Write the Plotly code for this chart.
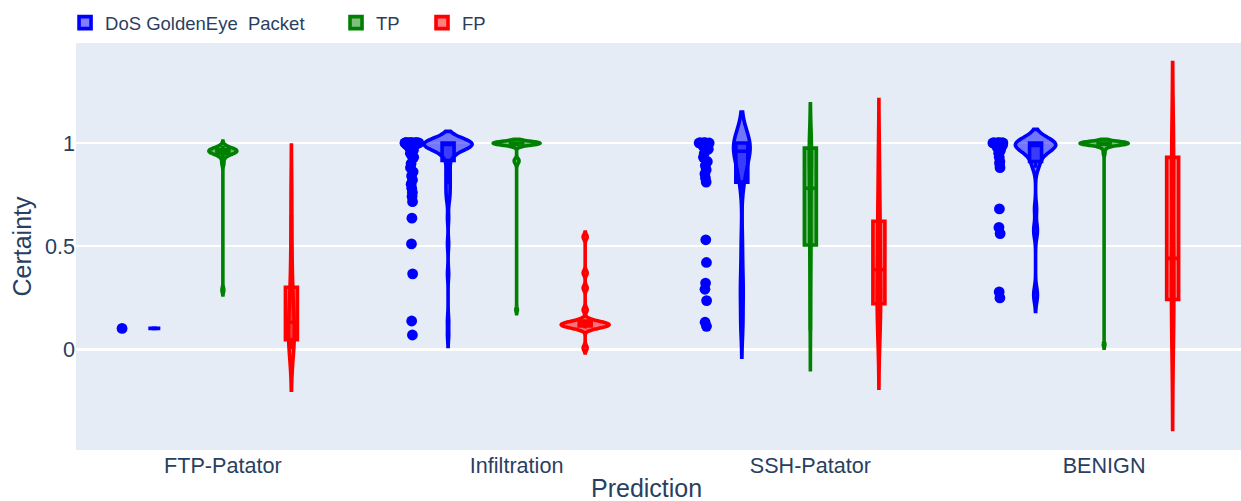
import plotly.graph_objects as go

# ---------------- data ----------------
categories = ["FTP-Patator", "Infiltration", "SSH-Patator", "BENIGN"]
series_names = ["DoS GoldenEye  Packet", "TP", "FP"]
series_colors = ["blue", "green", "red"]

# DoS GoldenEye  Packet
dos_ftp = [0.1]
dos_inf = [0.068, 0.136, 0.365, 0.51, 0.635, 0.715,
           0.74, 0.76, 0.78, 0.80, 0.82, 0.84, 0.86, 0.88, 0.90,
           0.93, 0.94, 0.95, 0.955, 0.96, 0.965, 0.97, 0.975, 0.98, 0.982,
           0.985, 0.987, 0.99, 0.991, 0.992, 0.993, 0.994, 0.995, 0.996, 0.997,
           0.998, 0.998, 0.999, 0.999,
           1.0, 1.0, 1.0, 1.0, 1.0, 1.0, 1.0, 1.0, 1.0, 1.0, 1.0,
           1.0, 1.0, 1.0, 1.0, 1.0, 1.0, 1.0, 1.0, 1.0, 1.0]
dos_ssh = [0.11, 0.13, 0.235, 0.29, 0.32, 0.42, 0.53,
           0.81, 0.83, 0.85, 0.87, 0.89, 0.91, 0.93, 0.95, 0.97, 0.98, 0.985,
           0.99, 0.99, 0.995, 0.998,
           1.0, 1.0, 1.0, 1.0, 1.0, 1.0, 1.0, 1.0]
dos_benign = [0.248, 0.277, 0.56, 0.59, 0.68,
              0.88, 0.90, 0.91, 0.93, 0.95, 0.96, 0.97, 0.975, 0.98, 0.985,
              0.99, 0.99, 0.995, 0.995, 0.998,
              1.0, 1.0, 1.0, 1.0, 1.0, 1.0, 1.0, 1.0, 1.0, 1.0]

# TP
tp_ftp = [0.286, 0.9, 0.925,
          0.942, 0.945, 0.948, 0.95, 0.952, 0.954, 0.956, 0.958, 0.96, 0.96,
          0.962, 0.963, 0.965, 0.966, 0.968, 0.97, 0.971, 0.973, 0.975, 0.985]
tp_inf = [0.19,
          0.9, 0.91, 0.915, 0.92,
          0.985, 0.99, 0.992, 0.994, 0.995, 0.996, 0.997, 0.998, 0.998, 0.999, 0.999,
          1.0, 1.0, 1.0, 1.0, 1.0, 1.0, 1.0, 1.0, 1.0, 1.0,
          1.0, 1.0, 1.0, 1.0, 1.0, 1.0, 1.0, 1.0, 1.0, 1.0]
tp_ssh = [0.09, 0.15, 0.22, 0.28, 0.33, 0.38, 0.42, 0.46, 0.49, 0.50,
          0.51, 0.53, 0.56, 0.60, 0.63, 0.66, 0.69, 0.72, 0.75, 0.77,
          0.79, 0.81, 0.83, 0.85, 0.87, 0.89, 0.91, 0.93, 0.95, 0.97,
          0.98, 0.98, 0.985, 0.99, 0.99, 0.995, 1.0, 1.0, 1.0, 1.0]
tp_benign = [0.022,
             0.95, 0.97, 0.98, 0.985, 0.99, 0.99, 0.992, 0.994, 0.995, 0.996,
             0.997, 0.998, 0.998, 0.999, 0.999,
             1.0, 1.0, 1.0, 1.0, 1.0, 1.0, 1.0, 1.0, 1.0, 1.0,
             1.0, 1.0, 1.0, 1.0, 1.0, 1.0, 1.0, 1.0, 1.0, 1.0]

# FP
fp_ftp = [0.0, 0.01, 0.02, 0.03, 0.04, 0.05, 0.06, 0.08, 0.1, 0.12,
          0.14, 0.17, 0.2, 0.24, 0.28, 0.32, 0.4, 0.5, 0.65, 0.79]
fp_inf = [0.005,
          0.1, 0.104, 0.107, 0.11, 0.112, 0.114, 0.116, 0.117, 0.118,
          0.12, 0.122, 0.124, 0.127, 0.13, 0.134, 0.14,
          0.19, 0.296, 0.369, 0.544]
fp_ssh = [0.02, 0.05, 0.08, 0.11, 0.14, 0.17, 0.2, 0.22, 0.23, 0.25,
          0.27, 0.29, 0.31, 0.34, 0.37, 0.4, 0.43, 0.46, 0.5, 0.54,
          0.58, 0.61, 0.62, 0.66, 0.7, 0.75, 0.8, 0.86, 0.93, 1.0]
fp_benign = [0.0, 0.05, 0.12, 0.2, 0.24, 0.26, 0.3, 0.36, 0.42, 0.46,
             0.55, 0.7, 0.88, 0.93, 0.96, 0.98, 0.99, 1.0]

series_values = [
    [dos_ftp, dos_inf, dos_ssh, dos_benign],
    [tp_ftp, tp_inf, tp_ssh, tp_benign],
    [fp_ftp, fp_inf, fp_ssh, fp_benign],
]

# kernel bandwidth per violin (None -> plotly default)
bandwidths = [
    [None, 0.028, 0.075, 0.033],
    [0.012, 0.009, 0.095, 0.009],
    [0.1, 0.012, 0.105, 0.195],
]

y_tick_vals = [0, 0.5, 1]
y_tick_text = ["0", "0.5", "1"]
x_title = "Prediction"
y_title = "Certainty"

# ---------------- figure ----------------
FONT = "Arial, 'Liberation Sans', sans-serif"
TXT = "#2a3f5f"
LW = 3.6
legend_ids = ["legend", "legend2", "legend3"]
legend_x = [-0.0094, 0.2232, 0.297]

fig = go.Figure()
for si, name in enumerate(series_names):
    color = series_colors[si]
    for ci, cat in enumerate(categories):
        vals = series_values[si][ci]
        kw = {}
        if bandwidths[si][ci] is not None:
            kw["bandwidth"] = bandwidths[si][ci]
        fig.add_trace(go.Violin(
            x=[cat] * len(vals),
            y=vals,
            name=name,
            legendgroup=name,
            legend=legend_ids[si],
            showlegend=(ci == 0),
            scalegroup=name,
            offsetgroup=name,
            alignmentgroup="all",
            line=dict(color=color, width=LW),
            box=dict(visible=True, line=dict(color=color, width=LW)),
            points="all" if si == 0 else False,
            pointpos=-1.5,
            jitter=0.3,
            marker=dict(color=color, size=10.8),
            spanmode="soft",
            **kw,
        ))

leg_common = dict(orientation="h", yanchor="middle", y=1.049, xanchor="left",
                  bgcolor="rgba(0,0,0,0)", font=dict(size=18.5, color=TXT, family=FONT))

fig.update_layout(
    width=1241, height=501,
    margin=dict(l=76, r=0, t=43, b=51),
    template="plotly",
    font=dict(family=FONT, color=TXT),
    violinmode="group",
    violingap=0.3,
    violingroupgap=0.3,
    legend=dict(x=legend_x[0], **leg_common),
    legend2=dict(x=legend_x[1], **leg_common),
    legend3=dict(x=legend_x[2], **leg_common),
    xaxis=dict(
        type="category",
        categoryorder="array",
        categoryarray=categories,
        range=[-0.5, 3.466],
        tickfont=dict(size=21.6),
        automargin=False,
        showgrid=False,
    ),
    yaxis=dict(
        range=[-0.49, 1.485],
        tickvals=y_tick_vals,
        ticktext=y_tick_text,
        tickfont=dict(size=21.6),
        title=dict(text=y_title, font=dict(size=25), standoff=6),
        automargin=False,
        gridwidth=2,
        zerolinewidth=3,
    ),
    annotations=[dict(
        text=x_title, xref="paper", yref="paper", x=0.4901, y=-0.0934,
        xanchor="center", yanchor="middle", showarrow=False, borderpad=0,
        font=dict(size=25, color=TXT, family=FONT),
    )],
)

fig.write_html("out.html",
               config={"displayModeBar": False},
               post_script="document.body.style.margin='0px';document.body.style.overflow='hidden';")
